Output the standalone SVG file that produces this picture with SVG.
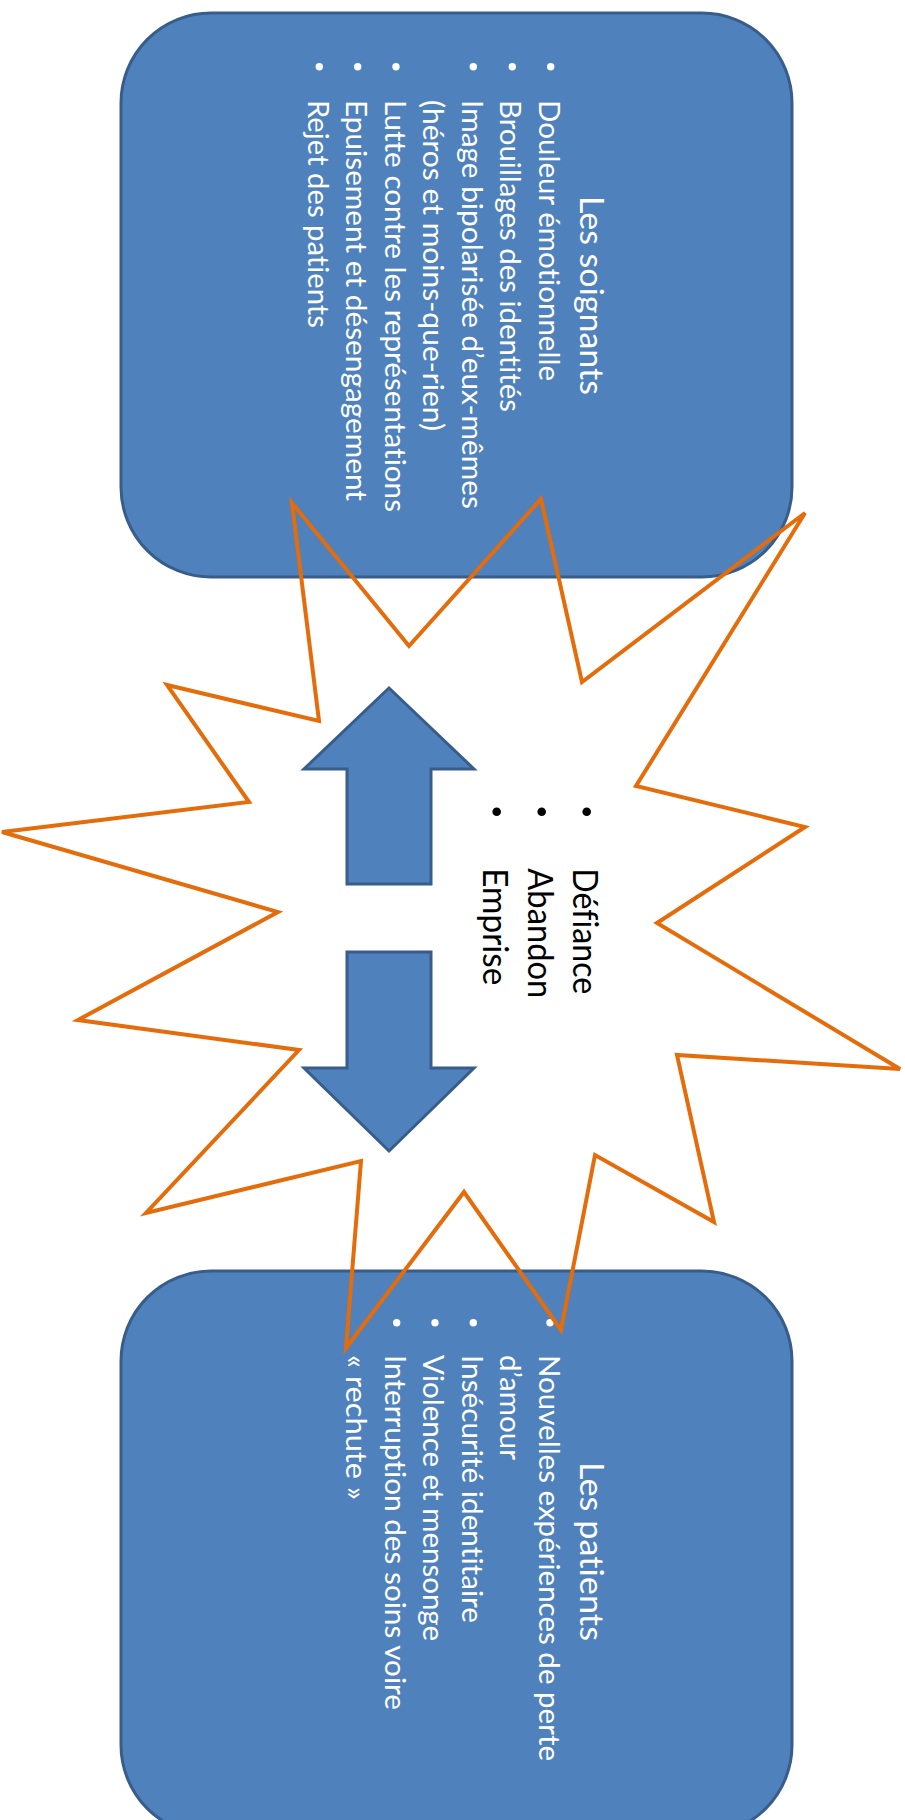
<svg xmlns="http://www.w3.org/2000/svg" width="905" height="1820" viewBox="0 0 905 1820">
<style>
.box{fill:#4F81BD;stroke:#385D8A;stroke-width:3}
.arrow{fill:#4F81BD;stroke:#385D8A;stroke-width:3;stroke-linejoin:miter}
.star{fill:none;stroke:#E46C0A;stroke-width:4;stroke-linejoin:miter}
text{font-variant-ligatures:none}
.title{font-family:Lato,"Liberation Sans",sans-serif;font-size:33.5px;fill:#FFFFFF}
.body{font-family:Lato,"Liberation Sans",sans-serif;font-size:29.5px;fill:#FFFFFF}
.mid{font-family:Lato,"Liberation Sans",sans-serif;font-size:34px;fill:#000000}
.wb{fill:#FFFFFF}
.bb{fill:#000000}
</style>
<rect width="905" height="1820" fill="#FFFFFF"/>
<g id="node-soignants">
<rect class="box" x="121" y="13" width="671" height="564" rx="90" ry="90"/>
<text class="title" text-anchor="middle" transform="translate(579.5,295.5) rotate(90)" textLength="199" lengthAdjust="spacingAndGlyphs">Les soignants</text>
<circle class="wb" cx="550.7" cy="66.7" r="3.7"/>
<circle class="wb" cx="512.3" cy="66.7" r="3.7"/>
<circle class="wb" cx="473.3" cy="66.7" r="3.7"/>
<circle class="wb" cx="396" cy="66.7" r="3.7"/>
<circle class="wb" cx="357.7" cy="66.7" r="3.7"/>
<circle class="wb" cx="319.3" cy="66.7" r="3.7"/>
<text class="body" transform="translate(538.5,100) rotate(90)" textLength="281" lengthAdjust="spacingAndGlyphs">Douleur émotionnelle</text>
<text class="body" transform="translate(500,100) rotate(90)" textLength="312" lengthAdjust="spacingAndGlyphs">Brouillages des identités</text>
<text class="body" transform="translate(461.5,100) rotate(90)" textLength="409" lengthAdjust="spacingAndGlyphs">Image bipolarisée d’eux-mêmes</text>
<text class="body" transform="translate(423,100) rotate(90)" textLength="331" lengthAdjust="spacingAndGlyphs">(héros et moins-que-rien)</text>
<text class="body" transform="translate(384.5,100) rotate(90)" textLength="412" lengthAdjust="spacingAndGlyphs">Lutte contre les représentations</text>
<text class="body" transform="translate(346,100) rotate(90)" textLength="401" lengthAdjust="spacingAndGlyphs">Epuisement et désengagement</text>
<text class="body" transform="translate(307.5,100) rotate(90)" textLength="228" lengthAdjust="spacingAndGlyphs">Rejet des patients</text>
</g>
<g id="node-patients">
<rect class="box" x="121" y="1271" width="671" height="564" rx="90" ry="90"/>
<text class="title" text-anchor="middle" transform="translate(579.5,1551.5) rotate(90)" textLength="179" lengthAdjust="spacingAndGlyphs">Les patients</text>
<circle class="wb" cx="550" cy="1322.7" r="3.7"/>
<circle class="wb" cx="473.3" cy="1322.7" r="3.7"/>
<circle class="wb" cx="435" cy="1322.7" r="3.7"/>
<circle class="wb" cx="396.7" cy="1322.7" r="3.7"/>
<text class="body" transform="translate(538.5,1355) rotate(90)" textLength="406" lengthAdjust="spacingAndGlyphs">Nouvelles expériences de perte</text>
<text class="body" transform="translate(500,1355) rotate(90)" textLength="105" lengthAdjust="spacingAndGlyphs">d’amour</text>
<text class="body" transform="translate(461.7,1355) rotate(90)" textLength="268" lengthAdjust="spacingAndGlyphs">Insécurité identitaire</text>
<text class="body" transform="translate(423.3,1355) rotate(90)" textLength="286" lengthAdjust="spacingAndGlyphs">Violence et mensonge</text>
<text class="body" transform="translate(384.5,1355) rotate(90)" textLength="355" lengthAdjust="spacingAndGlyphs">Interruption des soins voire</text>
<text class="body" transform="translate(346,1355) rotate(90)" textLength="145" lengthAdjust="spacingAndGlyphs">« rechute »</text>
</g>
<g id="connectors">
<polygon class="arrow" points="389,688 474,769 431,769 431,884 347,884 347,769 304,769"/>
<polygon class="arrow" points="389,1151 474,1068 431,1068 431,952 347,952 347,1068 304,1068"/>
</g>
<g id="node-star">
<polygon class="star" points="292,503 409,646 541,499 582,682 805,513 636,786 805,827 657,923 900,1069 677,1055 714,1222 595,1155 561,1330 464,1192 346,1348 361,1161 146,1213 299,1050 78,1020 278,912 2,832 249,802 167,685 319,721"/>
<circle class="bb" cx="586.7" cy="811.7" r="4.3"/>
<circle class="bb" cx="541.7" cy="811.7" r="4.3"/>
<circle class="bb" cx="496.7" cy="811.7" r="4.3"/>
<text class="mid" transform="translate(572.7,868.3) rotate(90)" textLength="126" lengthAdjust="spacingAndGlyphs">Défiance</text>
<text class="mid" transform="translate(527.7,868.3) rotate(90)" textLength="130" lengthAdjust="spacingAndGlyphs">Abandon</text>
<text class="mid" transform="translate(483.3,868.3) rotate(90)" textLength="117" lengthAdjust="spacingAndGlyphs">Emprise</text>
</g>
</svg>
